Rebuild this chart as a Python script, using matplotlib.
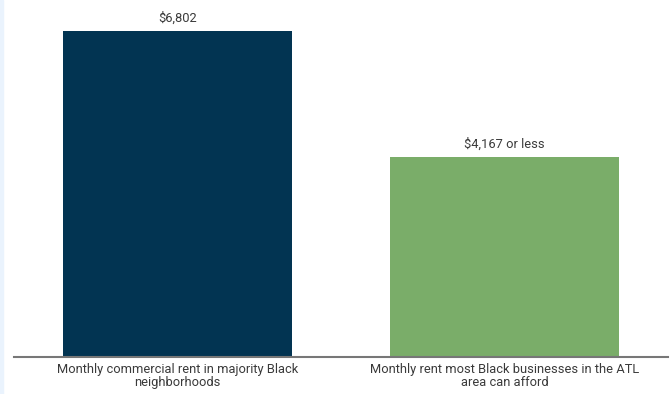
import matplotlib.pyplot as plt
from matplotlib.patches import Rectangle

categories = ['Monthly commercial rent in majority Black\nneighborhoods',
              'Monthly rent most Black businesses in the ATL\narea can afford']
rents = [6802, 4167]
value_labels = ['$6,802', '$4,167 or less']
colors = ['#023452', '#7aad69']

plt.rcParams['font.family'] = ['Roboto', 'DejaVu Sans']

fig = plt.figure(figsize=(6.7, 3.94), dpi=100)
fig.add_artist(Rectangle((0, 0), 3 / 670, 1, transform=fig.transFigure,
                         color='#eaf3fd', zorder=0))
ax = fig.add_axes([14 / 670, 1 - 357 / 394, 654 / 670, (357 - 31) / 394])

x = range(len(rents))
ax.bar(x, rents, width=0.7, color=colors)
for xi, v, lab in zip(x, rents, value_labels):
    ax.text(xi, v + 140, lab, ha='center', va='bottom', fontsize=9.3, color='#3a3a3a')

ax.set_xlim(-0.5, 1.5)
ax.set_ylim(0, 6802)
ax.set_xticks(list(x))
ax.set_xticklabels(categories, fontsize=9.3, color='#3a3a3a', linespacing=1.0)
ax.tick_params(axis='x', length=0, pad=4)
ax.set_yticks([])
for s in ['top', 'right', 'left']:
    ax.spines[s].set_visible(False)
ax.spines['bottom'].set_color('#777777')
ax.spines['bottom'].set_linewidth(1.5)
ax.patch.set_alpha(0)

fig.savefig('out.png', dpi=100)
